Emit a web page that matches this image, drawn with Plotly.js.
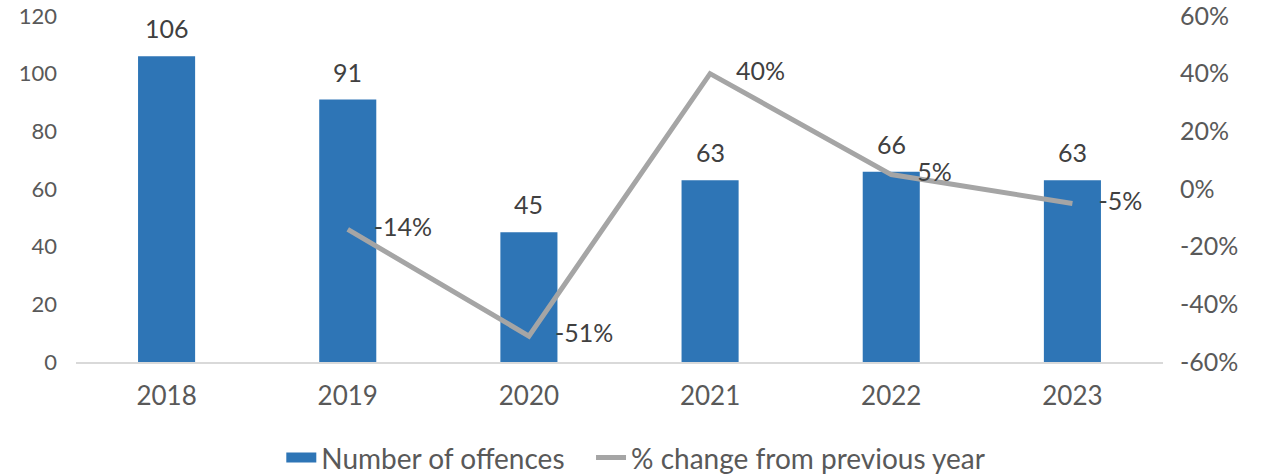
<!DOCTYPE html>
<html>
<head>
<meta charset="utf-8">
<script src="https://cdn.plot.ly/plotly-3.0.1.min.js"></script>
<style>html,body{margin:0;padding:0;background:#fff;}#chart{width:1271px;height:474px;}</style>
</head>
<body>
<div id="chart"></div>
<script>
const years = ['2018', '2019', '2020', '2021', '2022', '2023'];
const offences = [106, 91, 45, 63, 66, 63];
const changeYears = ['2019', '2020', '2021', '2022', '2023'];
const pctChange = [-14, -51, 40, 5, -5];
const leftTicks = [0, 20, 40, 60, 80, 100, 120];
const rightTicks = [-60, -40, -20, 0, 20, 40, 60];

const FONT = 'Lato, "Open Sans", sans-serif';
const BLUE = '#2E75B6';

const bars = {
  type: 'bar',
  name: 'Number of offences',
  x: years,
  y: offences,
  marker: {color: BLUE},
  width: 0.315,
  showlegend: false,
  hoverinfo: 'skip'
};

// legend-only entry to show the wide rectangular swatch for the bars
const barLegend = {
  type: 'scatter',
  mode: 'lines',
  name: 'Number of offences\u00a0\u00a0\u00a0',
  x: [null],
  y: [null],
  line: {color: BLUE, width: 15},
  showlegend: true,
  hoverinfo: 'skip'
};

const line = {
  type: 'scatter',
  mode: 'lines+markers+text',
  name: '% change from previous year',
  x: changeYears,
  y: pctChange,
  yaxis: 'y2',
  line: {color: '#A5A5A5', width: 5},
  marker: {size: 40, color: 'rgba(0,0,0,0)'},
  text: pctChange.map(v => v + '%'),
  textposition: 'middle right',
  cliponaxis: false,
  textfont: {size: 25, color: '#404040', family: FONT},
  hoverinfo: 'skip'
};

// bar value labels, positioned by category index on the x axis and value on y
const barLabels = offences.map((v, i) => ({
  x: i, y: v, xref: 'x', yref: 'y',
  text: String(v),
  showarrow: false,
  yanchor: 'bottom',
  yshift: 11,
  font: {size: 25, color: '#404040', family: FONT}
}));

const layout = {
  width: 1271,
  height: 474,
  margin: {l: 76, r: 108, t: 16, b: 112, autoexpand: false},
  paper_bgcolor: '#ffffff',
  plot_bgcolor: '#ffffff',
  font: {family: FONT, color: '#595959', size: 20},
  showlegend: true,
  legend: {
    orientation: 'h',
    xref: 'paper', yref: 'container',
    x: 0.515, xanchor: 'center',
    y: 0.034, yanchor: 'middle',
    font: {size: 28, color: '#595959', family: FONT},
    itemwidth: 30,
    traceorder: 'normal'
  },
  annotations: barLabels,
  xaxis: {
    type: 'category',
    categoryorder: 'array',
    categoryarray: years,
    automargin: false,
    showgrid: false,
    showline: true,
    linecolor: '#D9D9D9',
    linewidth: 2,
    ticks: '',
    tickfont: {size: 26, color: '#595959'},
    ticklabelstandoff: 10
  },
  yaxis: {
    automargin: false,
    range: [0, 120],
    tickvals: leftTicks,
    ticktext: leftTicks.map(String),
    showgrid: false,
    zeroline: false,
    showline: false,
    ticks: '',
    tickfont: {size: 22, color: '#595959'},
    ticklabelstandoff: 18
  },
  yaxis2: {
    automargin: false,
    overlaying: 'y',
    side: 'right',
    range: [-60, 60],
    tickvals: rightTicks,
    ticktext: rightTicks.map(v => v + '%'),
    ticklabeloverflow: 'allow',
    showgrid: false,
    zeroline: false,
    showline: false,
    ticks: '',
    tickfont: {size: 25, color: '#595959'},
    ticklabelstandoff: 16
  }
};

Plotly.newPlot('chart', [barLegend, bars, line], layout, {displayModeBar: false, staticPlot: true});
</script>
</body>
</html>
